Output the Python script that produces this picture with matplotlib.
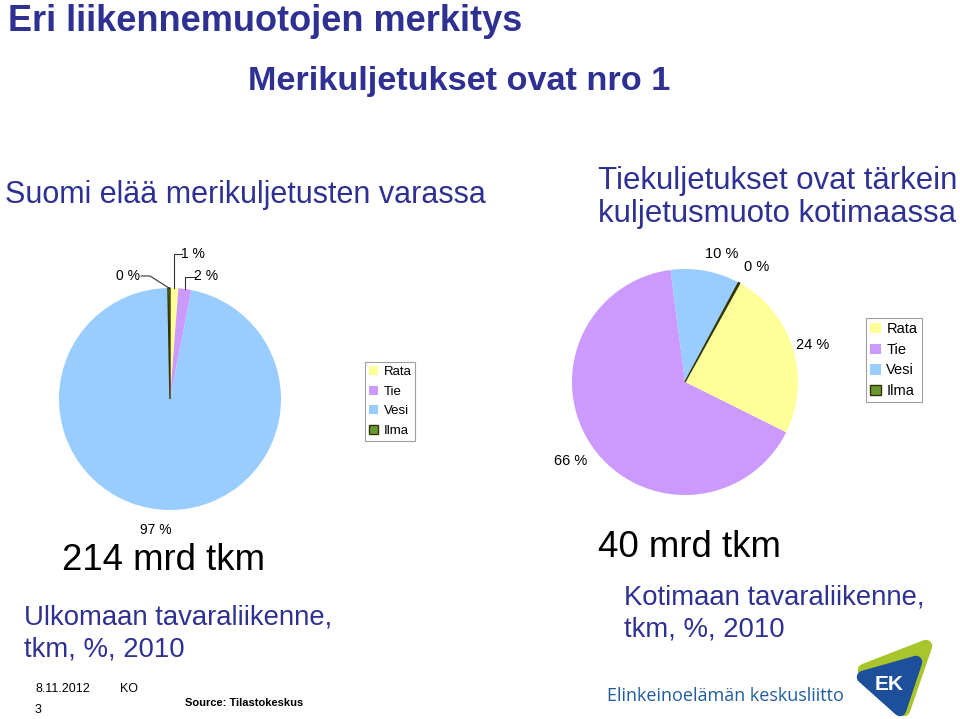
import numpy as np
import matplotlib
matplotlib.use("Agg")
import matplotlib.pyplot as plt
from matplotlib.patches import Polygon
from matplotlib.transforms import IdentityTransform

# data
modes = ["Rata", "Tie", "Vesi", "Ilma"]
foreign_share = [1.2, 1.9, 96.6, 0.3]      # Ulkomaan tavaraliikenne 2010, %
foreign_labels = ["1 %", "2 %", "97 %", "0 %"]
domestic_share = [24.3, 65.6, 9.9, 0.2]    # Kotimaan tavaraliikenne 2010, %
domestic_labels = ["24 %", "66 %", "10 %", "0 %"]
colors = ["#FFFF99", "#CC99FF", "#99CCFF", "#669933"]

W, H = 960, 719
NAVY = "#2E3192"
plt.rcParams['font.family'] = ['Liberation Sans', 'DejaVu Sans']


def fx(x):
    return x / W


def fy(y):
    return 1 - y / H


fig = plt.figure(figsize=(9.6, 7.19), dpi=100)


def pie_axes(cx, cy, r):
    return fig.add_axes([fx(cx - r), fy(cy + r), 2 * r / W, 2 * r / H])


def draw_pie(ax, vals, start):
    wedges, _ = ax.pie(vals, colors=colors, startangle=start, counterclock=False,
                       wedgeprops=dict(linewidth=0))
    wedges[3].set_edgecolor("#333300")
    wedges[3].set_linewidth(1.0)
    ax.set_xlim(-1, 1)
    ax.set_ylim(-1, 1)
    ax.set_aspect("equal")
    return wedges


# left pie: foreign trade
axl = pie_axes(170, 399, 111)
wl = draw_pie(axl, foreign_share, 90)

# leader lines for the thin slices at the top: label pos, line start, elbow (None = above slice)
lead = {0: ((193, 254), (182, 254), None),
        1: ((206, 276), (196, 277), None),
        3: ((128, 276), (141, 276), (150, 276))}
for i, ((tx, ty), (sx, sy), elbow) in lead.items():
    w = wl[i]
    mid = np.deg2rad((w.theta1 + w.theta2) / 2)
    px, py = axl.transData.transform((np.cos(mid), np.sin(mid)))
    if elbow is None:
        ex, ey = px, H - sy
    else:
        ex, ey = elbow[0], H - elbow[1]
    xs = [sx, ex, px]
    ys = [H - sy, ey, py]
    fig.add_artist(plt.Line2D(xs, ys, transform=IdentityTransform(),
                              color="#333333", lw=0.8))
    fig.text(fx(tx), fy(ty), foreign_labels[i], ha="center", va="center", fontsize=10)
fig.text(fx(156), fy(530), foreign_labels[2], ha="center", va="center", fontsize=10)

# right pie: domestic trade
axr = pie_axes(685, 382, 113)
wr = draw_pie(axr, domestic_share, 61)
r_pos = [(813, 345), (571, 461), (722, 254), (757, 267)]
for (tx, ty), lab in zip(r_pos, domestic_labels):
    fig.text(fx(tx), fy(ty), lab, ha="center", va="center", fontsize=10.5)

# legends
for handles, anchor, fs, sp in [(wl, (365, 362), 9.5, 0.56), (wr, (866, 318), 10.5, 0.45)]:
    leg = fig.legend(handles, modes, loc="upper left",
                     bbox_to_anchor=(fx(anchor[0]), fy(anchor[1])),
                     fontsize=fs, frameon=True, fancybox=False, edgecolor="#888888",
                     handlelength=0.7, handleheight=0.7, handletextpad=0.4,
                     borderpad=0.3, labelspacing=sp, borderaxespad=0)
    leg.get_frame().set_linewidth(0.8)

# headings
fig.text(fx(8), fy(31), "Eri liikennemuotojen merkitys", fontsize=26, fontweight="bold",
         color=NAVY, va="baseline")
fig.text(fx(248), fy(90), "Merikuljetukset ovat nro 1", fontsize=24.7, fontweight="bold",
         color=NAVY, va="baseline")
fig.text(fx(5), fy(203), "Suomi elää merikuljetusten varassa", fontsize=22,
         color=NAVY, va="baseline")
fig.text(fx(598), fy(189), "Tiekuljetukset ovat tärkein", fontsize=22.4,
         color=NAVY, va="baseline")
fig.text(fx(598), fy(222), "kuljetusmuoto kotimaassa", fontsize=22.4,
         color=NAVY, va="baseline")

fig.text(fx(62), fy(570), "214 mrd tkm", fontsize=26.3, va="baseline")
fig.text(fx(24), fy(625), "Ulkomaan tavaraliikenne,", fontsize=19.8, color=NAVY, va="baseline")
fig.text(fx(24), fy(657), "tkm, %, 2010", fontsize=19.8, color=NAVY, va="baseline")
fig.text(fx(598), fy(557), "40 mrd tkm", fontsize=26.4, va="baseline")
fig.text(fx(624), fy(605), "Kotimaan tavaraliikenne,", fontsize=19.8, color=NAVY, va="baseline")
fig.text(fx(624), fy(636), "tkm, %, 2010", fontsize=19.8, color=NAVY, va="baseline")

# footer
fig.text(fx(35), fy(692), "8.11.2012", fontsize=9, va="baseline")
fig.text(fx(120), fy(692), "KO", fontsize=9, va="baseline")
fig.text(fx(35), fy(713), "3", fontsize=9, va="baseline")
fig.text(fx(185), fy(706), "Source: Tilastokeskus", fontsize=8, fontweight="bold", va="baseline")

# logo
fig.text(fx(607), fy(701), "Elinkeinoelämän keskusliitto", fontsize=13.0, color="#1F5C9E",
         family=["Open Sans", "DejaVu Sans"], va="baseline")
green = [(864, 670), (926, 646), (904, 710)]
blue = [(863, 677), (916, 662), (900, 710)]
for pts, col, lw in [(green, "#A8C62B", 9), (blue, "#1D4F9B", 9)]:
    fig.add_artist(Polygon([(fx(x), fy(y)) for x, y in pts], closed=True,
                           facecolor=col, edgecolor=col, lw=lw, joinstyle="round",
                           transform=fig.transFigure))
fig.text(fx(889), fy(684), "EK", fontsize=15, fontweight="bold", color="white",
         ha="center", va="center")

fig.savefig("out.png", dpi=100)
